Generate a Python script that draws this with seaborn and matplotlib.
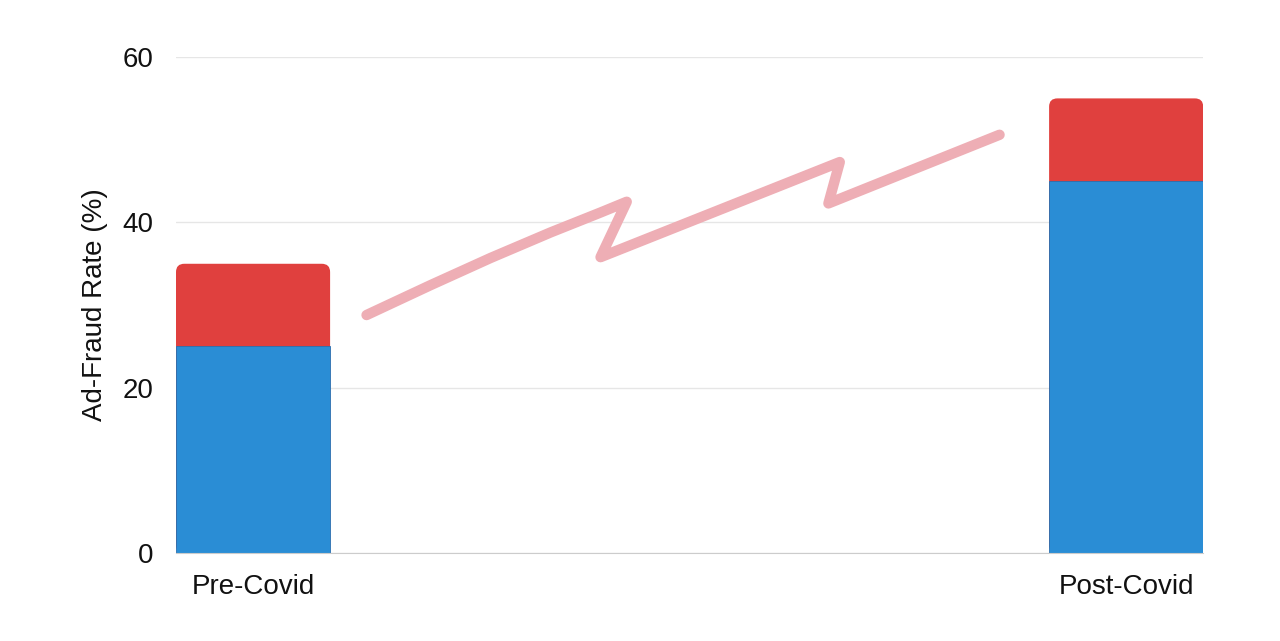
import seaborn as sns
import matplotlib.pyplot as plt
from matplotlib.patches import FancyBboxPatch

# data
periods = ["Pre-Covid", "Post-Covid"]
base_rate = [25, 45]      # blue part
extra_rate = [10, 10]     # red part on top
totals = [b + e for b, e in zip(base_rate, extra_rate)]

# hand drawn zigzag between the bars (x in category units, y in %)
trend_x = [0.130, 0.203, 0.272, 0.341, 0.398, 0.428, 0.398, 0.672, 0.659, 0.855]
trend_y = [28.8, 32.4, 35.7, 38.8, 41.2, 42.5, 35.8, 47.3, 42.3, 50.6]

blue = "#2a8dd5"
red = "#e0403e"
pink = "#eeaeb5"
bar_w = 0.1765

sns.set_style("white")
plt.rcParams["font.family"] = ["Liberation Sans", "DejaVu Sans"]

fig = plt.figure(figsize=(12.8, 6.41), dpi=100)
ax = fig.add_axes([0.1375, 0.137, 0.8025, 0.774])

sns.barplot(x=periods, y=totals, color=red, width=bar_w, saturation=1, ax=ax)
n_red = len(ax.patches)
sns.barplot(x=periods, y=base_rate, color=blue, width=bar_w, saturation=1, ax=ax)

ax.set_xlim(-bar_w / 2, 1 + bar_w / 2)
ax.set_ylim(0, 60)

# rounded tops for the red segments
for p in ax.patches[:n_red]:
    x0, y0 = p.get_x(), p.get_y()
    w, h = p.get_width(), p.get_height()
    p.set_visible(False)
    rp = FancyBboxPatch((x0, y0), w, h, boxstyle="round,pad=0,rounding_size=0.0095",
                        mutation_aspect=105, fc=red, ec="none", zorder=0.9)
    ax.add_patch(rp)

for p in ax.patches[n_red:]:
    if p.get_visible() and p.get_facecolor()[2] > 0.5:
        p.set_edgecolor("#2a6fb0")
        p.set_linewidth(0.6)

sns.lineplot(x=trend_x, y=trend_y, sort=False, estimator=None, color=pink,
             lw=7.5, solid_capstyle="round", solid_joinstyle="round", ax=ax)

ax.set_yticks([0, 20, 40, 60])
ax.yaxis.grid(True, color="#e6e6e6", lw=1)
ax.set_axisbelow(True)
for s in ["top", "right", "left"]:
    ax.spines[s].set_visible(False)
ax.spines["bottom"].set_color("#cccccc")
ax.tick_params(axis="y", length=0, pad=16, labelsize=20, labelcolor="#111111")
ax.tick_params(axis="x", length=0, pad=15, labelsize=20, labelcolor="#111111")
ax.set_ylabel("Ad-Fraud Rate (%)", fontsize=20, color="#111111", labelpad=11)
ax.set_xlabel("")

fig.savefig("out.png", dpi=100, facecolor="white")
